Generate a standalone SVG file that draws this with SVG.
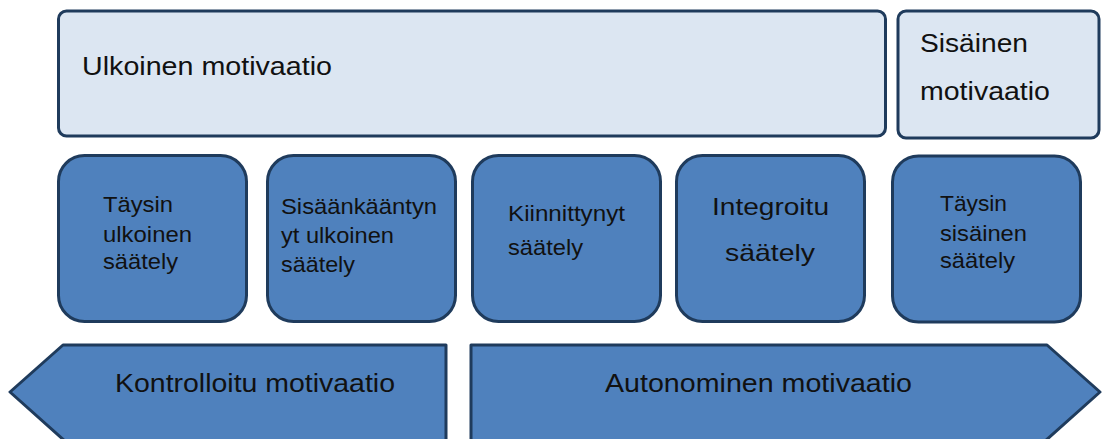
<svg xmlns="http://www.w3.org/2000/svg" width="1103" height="439" viewBox="0 0 1103 439">
<style>
.light{fill:#dce6f2;stroke:#1f3b5c;stroke-width:3}
.blue{fill:#4f81bd;stroke:#1f3b5c;stroke-width:3;stroke-linejoin:round}
text{font-family:"Liberation Sans",Arial,sans-serif;fill:#111}
.big{font-size:25.5px}
.mid{font-size:22px}
.int{font-size:24px}
</style>
<rect width="1103" height="439" fill="#ffffff"/>
<g id="ulkoinen">
<rect class="light" x="58.5" y="11" width="827" height="125" rx="8"/>
<text class="big" x="82" y="75" textLength="250" lengthAdjust="spacingAndGlyphs">Ulkoinen motivaatio</text>
</g>
<g id="sisainen">
<rect class="light" x="898" y="11" width="201" height="127" rx="8"/>
<text class="big" x="920" y="52" textLength="108" lengthAdjust="spacingAndGlyphs">Sisäinen</text>
<text class="big" x="920" y="100" textLength="130" lengthAdjust="spacingAndGlyphs">motivaatio</text>
</g>
<g id="taysin-ulkoinen">
<rect class="blue" x="58.5" y="155.5" width="188" height="166" rx="26"/>
<text class="mid" x="103" y="212" textLength="70" lengthAdjust="spacingAndGlyphs">Täysin</text>
<text class="mid" x="103" y="242" textLength="89" lengthAdjust="spacingAndGlyphs">ulkoinen</text>
<text class="mid" x="103" y="269" textLength="75" lengthAdjust="spacingAndGlyphs">säätely</text>
</g>
<g id="sisaankaantynyt">
<rect class="blue" x="267.5" y="155.5" width="188" height="166" rx="26"/>
<text class="mid" x="281" y="214" textLength="156" lengthAdjust="spacingAndGlyphs">Sisäänkääntyn</text>
<text class="mid" x="281" y="243" textLength="113" lengthAdjust="spacingAndGlyphs">yt ulkoinen</text>
<text class="mid" x="281" y="272" textLength="74" lengthAdjust="spacingAndGlyphs">säätely</text>
</g>
<g id="kiinnittynyt">
<rect class="blue" x="472.5" y="155.5" width="188" height="166" rx="26"/>
<text class="mid" x="508" y="221" textLength="117" lengthAdjust="spacingAndGlyphs">Kiinnittynyt</text>
<text class="mid" x="508" y="255" textLength="75" lengthAdjust="spacingAndGlyphs">säätely</text>
</g>
<g id="integroitu">
<rect class="blue" x="676.5" y="155.5" width="188" height="166" rx="26"/>
<text class="int" x="712" y="215" textLength="117" lengthAdjust="spacingAndGlyphs">Integroitu</text>
<text class="int" x="725" y="261" textLength="90" lengthAdjust="spacingAndGlyphs">säätely</text>
</g>
<g id="taysin-sisainen">
<rect class="blue" x="892.5" y="156" width="188" height="166" rx="26"/>
<text class="mid" x="940" y="211" textLength="67" lengthAdjust="spacingAndGlyphs">Täysin</text>
<text class="mid" x="940" y="241" textLength="87" lengthAdjust="spacingAndGlyphs">sisäinen</text>
<text class="mid" x="940" y="268" textLength="75" lengthAdjust="spacingAndGlyphs">säätely</text>
</g>
<g id="kontrolloitu">
<polygon class="blue" points="10,392 63,345 446,345 446,442 66,442"/>
<text class="big" x="115" y="392" textLength="280" lengthAdjust="spacingAndGlyphs">Kontrolloitu motivaatio</text>
</g>
<g id="autonominen">
<polygon class="blue" points="471,345 1047,345 1100,392 1044,442 471,442"/>
<text class="big" x="605" y="392" textLength="307" lengthAdjust="spacingAndGlyphs">Autonominen motivaatio</text>
</g>
<g id="connectors"></g>
</svg>
